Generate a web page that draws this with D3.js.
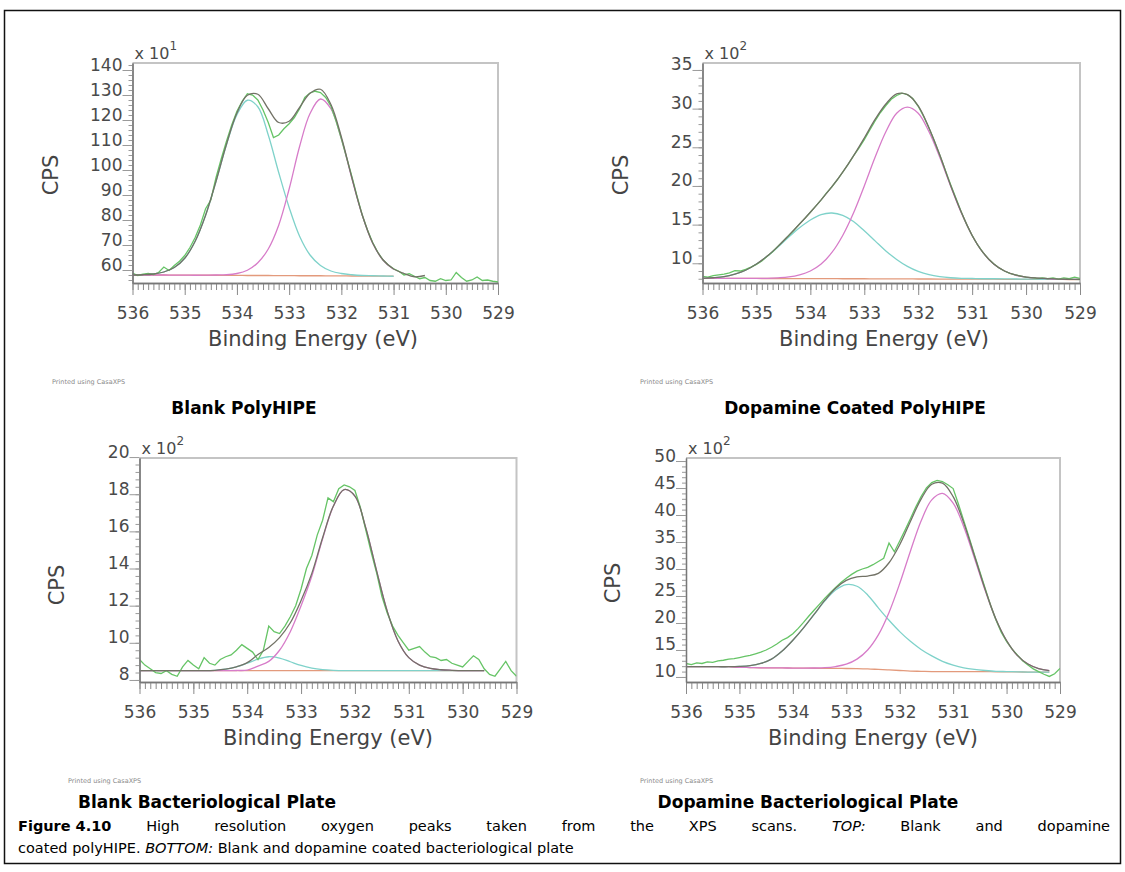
<!DOCTYPE html>
<html><head><meta charset="utf-8">
<script src="https://cdn.jsdelivr.net/npm/d3@7"></script>
<style>body{margin:0;background:#fff}svg{display:block}</style>
</head><body>
<script>
// ---------- shared axes ----------
const bindingEnergyFine = [536.0,535.9,535.8,535.7,535.6,535.5,535.4,535.3,535.2,535.1,535.0,534.9,534.8,534.7,534.6,534.5,534.4,534.3,534.2,534.1,534.0,533.9,533.8,533.7,533.6,533.5,533.4,533.3,533.2,533.1,533.0,532.9,532.8,532.7,532.6,532.5,532.4,532.3,532.2,532.1,532.0,531.9,531.8,531.7,531.6,531.5,531.4,531.3,531.2,531.1,531.0,530.9,530.8,530.7,530.6,530.5,530.4,530.3,530.2,530.1,530.0,529.9,529.8,529.7,529.6,529.5,529.4,529.3,529.2,529.1,529.0];
const bindingEnergyFit = [536.0,535.8,535.6,535.4,535.2,535.0,534.8,534.6,534.4,534.2,534.0,533.8,533.6,533.4,533.2,533.0,532.8,532.6,532.4,532.2,532.0,531.8,531.6,531.4,531.2,531.0,530.8,530.6,530.4,530.2,530.0,529.8,529.6,529.4,529.2,529.0];
const xTickLabels = [536,535,534,533,532,531,530,529];

// ---------- Blank PolyHIPE (x 10^1 CPS) ----------
const blankPolyHIPE_yTicks = [60,70,80,90,100,110,120,130,140];
const blankPolyHIPE_data = [58.8,57.8,58.3,58.6,58.2,59.0,61.2,59.8,61.8,63.5,65.8,69.0,73.0,78.0,84.5,88.0,97.0,104.5,111.5,118.0,123.5,127.5,130.5,130.0,128.0,124.0,119.0,113.0,114.0,116.5,118.5,121.0,124.5,129.0,130.8,131.5,131.0,129.0,125.5,119.5,112.5,105.0,97.5,89.5,82.0,76.0,71.0,67.0,64.0,62.0,60.5,59.5,58.0,58.5,57.5,56.5,57.0,55.8,55.5,56.5,55.8,56.0,59.0,57.0,55.5,56.0,57.2,55.8,56.0,55.5,55.2];
const blankPolyHIPE_background = [58.0,58.0,58.0,58.0,57.95,57.95,57.9,57.9,57.9,57.85,57.85,57.8,57.8,57.8,57.75,57.75,57.7,57.7,57.7,57.65,57.65,57.6,57.6,57.6,57.55,57.5,null,null,null,null,null,null,null,null,null,null];
const blankPolyHIPE_peakA = [58.0,58.1,58.4,59.2,61.0,64.7,71.5,81.9,95.5,110.1,122.1,127.9,125.3,114.0,99.0,85.0,73.5,66.0,61.8,59.6,58.6,58.1,57.8,57.7,57.6,57.5,null,null,null,null,null,null,null,null,null,null];
const blankPolyHIPE_peakB = [58.0,58.0,58.0,58.0,57.95,57.95,57.9,57.95,58.0,58.1,58.6,59.9,62.9,68.4,77.9,92.4,109.4,122.6,128.4,124.5,112.5,96.7,81.9,70.7,63.9,60.3,null,null,null,null,null,null,null,null,null,null];
const blankPolyHIPE_envelope = [58.0,58.1,58.4,59.2,61.0,64.7,71.5,81.9,95.5,110.3,122.8,129.9,130.3,124.5,119.0,119.5,125.0,130.7,132.3,126.2,113.2,97.0,82.0,70.8,64.0,60.4,58.6,57.3,57.8,null,null,null,null,null,null,null];

// ---------- Dopamine Coated PolyHIPE (x 10^2 CPS) ----------
const dopaminePolyHIPE_yTicks = [10,15,20,25,30,35];
const dopaminePolyHIPE_data = [8.3,8.2,8.4,8.5,8.6,8.75,9.05,9.0,9.2,9.5,9.85,10.3,10.9,11.5,12.2,12.9,13.6,14.3,15.1,15.8,16.6,17.4,18.2,19.1,19.9,20.8,21.8,22.8,23.9,24.9,26.0,27.2,28.4,29.5,30.4,31.2,31.7,32.0,31.8,31.3,30.3,29.0,27.5,25.8,24.0,22.1,20.2,18.4,16.6,15.0,13.6,12.4,11.4,10.6,9.95,9.4,9.0,8.7,8.5,8.35,8.2,8.15,8.05,8.1,8.0,8.1,7.95,8.1,8.0,8.2,8.05];
const dopaminePolyHIPE_background = [8.05,8.05,8.05,8.05,8.04,8.04,8.03,8.03,8.02,8.02,8.02,8.01,8.01,8.0,8.0,8.0,7.99,7.99,7.98,7.98,7.97,7.97,7.96,7.96,7.95,7.95,7.94,7.94,7.93,7.93,7.92,7.92,7.91,7.91,7.9,7.9];
const dopaminePolyHIPE_peakA = [8.06,8.13,8.27,8.6,9.1,9.9,10.9,12.1,13.4,14.6,15.6,16.3,16.5,16.2,15.4,14.2,12.9,11.6,10.5,9.6,8.95,8.52,8.27,8.13,8.06,8.03,8.0,8.0,7.98,7.97,7.95,7.94,7.93,7.92,7.91,7.9];
const dopaminePolyHIPE_peakB = [8.05,8.05,8.05,8.05,8.04,8.05,8.06,8.12,8.23,8.5,9.0,9.9,11.4,13.6,16.5,20.0,23.7,27.0,29.4,30.2,29.4,27.0,23.7,20.0,16.5,13.6,11.4,9.9,9.0,8.48,8.2,8.07,8.0,7.96,7.93,7.91];
const dopaminePolyHIPE_envelope = [8.06,8.13,8.27,8.6,9.1,9.91,10.93,12.19,13.61,15.08,16.6,18.2,19.9,21.8,23.9,26.2,28.6,30.6,31.9,31.8,30.35,27.5,24.0,20.1,16.6,13.6,11.4,9.9,9.0,8.5,8.22,8.09,8.02,7.96,7.93,7.91];

// ---------- Blank Bacteriological Plate (x 10^2 CPS) ----------
const blankPlate_yTicks = [8,10,12,14,16,18,20];
const blankPlate_data = [9.1,8.8,8.6,8.4,8.35,8.5,8.3,8.2,8.7,9.05,8.8,8.6,9.2,8.9,8.8,9.1,9.25,9.35,9.6,9.9,9.7,9.5,9.1,9.6,10.9,10.6,10.5,10.9,11.4,12.0,12.9,14.0,14.7,15.8,16.6,17.8,17.6,18.3,18.5,18.4,18.2,17.3,16.1,14.9,13.8,12.5,11.6,10.9,10.4,10.0,9.6,9.7,9.8,9.5,9.25,9.2,9.05,9.1,8.9,8.8,8.7,9.0,9.3,9.1,8.6,8.3,8.2,8.6,9.0,8.5,8.2];
const blankPlate_background = [8.5,8.5,8.5,8.5,8.5,8.5,8.5,8.5,8.5,8.5,8.5,8.5,8.5,8.5,8.5,8.5,8.5,8.5,8.5,8.5,8.5,8.5,8.5,8.5,8.5,8.5,8.5,8.5,8.5,8.5,8.5,8.5,8.5,null,null,null];
const blankPlate_peakA = [8.5,8.5,8.5,8.5,8.5,8.5,8.5,8.52,8.58,8.7,8.9,9.12,9.25,9.18,8.98,8.78,8.64,8.56,8.52,8.5,8.5,8.5,8.5,8.5,8.5,8.5,8.5,8.5,8.5,8.5,8.5,8.5,8.5,null,null,null];
const blankPlate_peakB = [8.5,8.5,8.5,8.5,8.5,8.5,8.5,8.5,8.5,8.51,8.53,8.75,9.0,9.6,10.6,12.0,13.6,15.6,17.35,18.25,17.9,16.2,13.9,11.7,10.1,9.2,8.8,8.62,8.55,8.52,8.5,8.5,8.5,null,null,null];
const blankPlate_envelope = [8.5,8.5,8.5,8.5,8.5,8.5,8.5,8.52,8.58,8.71,8.93,9.37,9.75,10.28,11.08,12.28,13.74,15.66,17.37,18.25,17.9,16.2,13.9,11.7,10.1,9.2,8.8,8.62,8.55,8.52,8.5,8.5,8.5,null,null,null];

// ---------- Dopamine Bacteriological Plate (x 10^2 CPS) ----------
const dopaminePlate_yTicks = [10,15,20,25,30,35,40,45,50];
const dopaminePlate_data = [12.5,12.3,12.6,12.5,12.8,12.7,13.0,13.1,13.3,13.4,13.6,13.8,14.0,14.3,14.6,15.0,15.5,16.1,16.8,17.3,18.0,19.0,20.1,21.3,22.4,23.5,24.6,25.6,26.6,27.5,28.3,29.0,29.6,30.0,30.3,30.8,31.4,32.0,34.8,33.2,35.2,37.2,39.3,41.5,43.4,45.0,46.0,46.4,46.2,45.6,44.9,42.0,38.9,35.8,32.6,29.5,26.4,23.3,20.6,18.3,16.6,15.2,14.1,13.0,12.2,11.5,11.0,10.5,10.1,10.6,11.6];
const dopaminePlate_background = [11.9,11.9,11.9,11.9,11.9,11.8,11.75,11.7,11.7,11.68,11.65,11.63,11.62,11.6,11.6,11.57,11.55,11.5,11.4,11.3,11.2,11.1,11.05,11.0,11.0,11.0,11.0,11.0,11.0,10.95,10.95,10.95,10.9,10.9,10.9,null];
const dopaminePlate_peakA = [11.9,11.9,11.9,11.9,11.9,11.95,12.1,12.5,13.3,14.8,16.8,19.1,21.6,24.1,26.1,27.1,26.8,25.2,22.8,20.5,18.4,16.6,15.1,13.9,12.9,12.2,11.7,11.4,11.2,11.05,11.0,10.95,10.9,10.9,10.9,null];
const dopaminePlate_peakB = [11.9,11.9,11.9,11.9,11.9,11.8,11.75,11.7,11.7,11.68,11.65,11.64,11.66,11.72,11.93,12.36,13.3,15.0,17.8,21.96,27.3,33.3,38.9,42.8,44.0,42.2,37.8,32.0,26.0,20.65,16.7,14.0,12.4,11.56,11.16,null];
const dopaminePlate_envelope = [11.9,11.9,11.9,11.9,11.9,11.95,12.1,12.5,13.3,14.8,16.8,19.1,21.64,24.22,26.43,27.89,28.55,28.7,29.2,31.16,34.5,38.8,42.95,45.7,45.9,43.4,38.5,32.4,26.2,20.75,16.75,14.0,12.4,11.56,11.16,null];

const panelTitles = ["Blank PolyHIPE","Dopamine Coated PolyHIPE","Blank Bacteriological Plate","Dopamine Bacteriological Plate"];
const multiplierExponents = ["1","2","2","2"];

// ---------- layout (positions / styles) ----------
const layout = [
  {l:132.5,r:498,t:63,b:283,yDom:[54.8,142.8],minorStep:2,cps:[50,175],xt:313,titleX:244,printX:52,titleY:414},
  {l:702.5,r:1080,t:63,b:283,yDom:[7.45,35.9],minorStep:1,cps:[620,175],xt:884,titleX:855,printX:640,titleY:414},
  {l:139.5,r:516.5,t:458,b:682,yDom:[7.89,19.95],minorStep:0.4,cps:[56,585],xt:328,titleX:207,printX:68,titleY:808},
  {l:686,r:1060,t:458,b:682,yDom:[9.07,50.56],minorStep:1,cps:[612,583],xt:873,titleX:808,printX:640,titleY:808}
];
const series = [
  {ticks:blankPolyHIPE_yTicks,data:blankPolyHIPE_data,bg:blankPolyHIPE_background,a:blankPolyHIPE_peakA,b:blankPolyHIPE_peakB,env:blankPolyHIPE_envelope},
  {ticks:dopaminePolyHIPE_yTicks,data:dopaminePolyHIPE_data,bg:dopaminePolyHIPE_background,a:dopaminePolyHIPE_peakA,b:dopaminePolyHIPE_peakB,env:dopaminePolyHIPE_envelope},
  {ticks:blankPlate_yTicks,data:blankPlate_data,bg:blankPlate_background,a:blankPlate_peakA,b:blankPlate_peakB,env:blankPlate_envelope},
  {ticks:dopaminePlate_yTicks,data:dopaminePlate_data,bg:dopaminePlate_background,a:dopaminePlate_peakA,b:dopaminePlate_peakB,env:dopaminePlate_envelope}
];

const FONT = "'DejaVu Sans', Verdana, sans-serif";
const svg = d3.select("body").append("svg").attr("width",1125).attr("height",872)
  .style("font-family",FONT);

svg.append("rect").attr("x",4.5).attr("y",10.5).attr("width",1116).attr("height",853)
  .attr("fill","none").attr("stroke","#111").attr("stroke-width",1.5);

layout.forEach((L,i)=>{
  const S = series[i];
  const g = svg.append("g");
  const x = d3.scaleLinear().domain([536,529]).range([L.l,L.r]);
  const y = d3.scaleLinear().domain(L.yDom).range([L.b,L.t]);

  g.append("path").attr("d",`M${L.l},${L.t}H${L.r}V${L.b}`)
    .attr("fill","none").attr("stroke","#c4c4c4").attr("stroke-width",2);

  const cid = "clip"+i;
  g.append("clipPath").attr("id",cid).append("rect")
    .attr("x",L.l).attr("y",L.t).attr("width",L.r-L.l).attr("height",L.b-L.t);
  const plot = g.append("g").attr("clip-path",`url(#${cid})`);

  const fitPts = arr => bindingEnergyFit.map((e,k)=>[e,arr[k]]);
  const finePts = arr => bindingEnergyFine.map((e,k)=>[e,arr[k]]);
  const smooth = d3.line().defined(d=>d[1]!=null).x(d=>x(d[0])).y(d=>y(d[1])).curve(d3.curveCatmullRom.alpha(0.5));
  const raw = d3.line().x(d=>x(d[0])).y(d=>y(d[1])).curve(d3.curveLinear);

  plot.append("path").attr("d",smooth(fitPts(S.bg))).attr("fill","none").attr("stroke","#e39a7c").attr("stroke-width",1.3);
  plot.append("path").attr("d",smooth(fitPts(S.a))).attr("fill","none").attr("stroke","#7fd2ca").attr("stroke-width",1.3);
  plot.append("path").attr("d",smooth(fitPts(S.b))).attr("fill","none").attr("stroke","#d77cc9").attr("stroke-width",1.3);
  plot.append("path").attr("d",raw(finePts(S.data))).attr("fill","none").attr("stroke","#66c466").attr("stroke-width",1.3);
  plot.append("path").attr("d",smooth(fitPts(S.env))).attr("fill","none").attr("stroke","#727266").attr("stroke-width",1.3);

  const minorX = d3.range(0,71).map(k=>536-k*0.1);
  const gxMinor = g.append("g").attr("transform",`translate(0,${L.b})`)
    .call(d3.axisBottom(x).tickValues(minorX).tickSize(7).tickSizeOuter(0).tickFormat(""));
  const gx = g.append("g").attr("transform",`translate(0,${L.b})`)
    .call(d3.axisBottom(x).tickValues(xTickLabels).tickSize(12).tickSizeOuter(0).tickFormat(d3.format("d")));
  gx.selectAll("text").attr("y",36).attr("dy",0).attr("font-size",17).attr("fill","#4a4a4a").attr("font-family",FONT);
  [gxMinor,gx].forEach(a=>{a.selectAll("line").attr("stroke","#8a8a8a"); a.select(".domain").attr("stroke","#777").attr("stroke-width",1.3);});

  const minorY = d3.range(Math.ceil(L.yDom[0]/L.minorStep)*L.minorStep, L.yDom[1], L.minorStep);
  const gyMinor = g.append("g").attr("transform",`translate(${L.l},0)`)
    .call(d3.axisLeft(y).tickValues(minorY).tickSize(4).tickSizeOuter(0).tickFormat(""));
  const gy = g.append("g").attr("transform",`translate(${L.l},0)`)
    .call(d3.axisLeft(y).tickValues(S.ticks).tickSize(10).tickSizeOuter(0).tickFormat(d3.format("d")));
  gy.selectAll("text").attr("x",-10).attr("dy",0).attr("font-size",17).attr("fill","#4a4a4a").attr("font-family",FONT);
  [gyMinor,gy].forEach(a=>{a.selectAll("line").attr("stroke","#9a9a9a"); a.select(".domain").attr("stroke","#777").attr("stroke-width",1.3);});

  const m = g.append("text").attr("x",L.l+2).attr("y",L.t-4).attr("font-size",16).attr("fill","#4a4a4a");
  m.append("tspan").text("x 10");
  m.append("tspan").attr("dy",-9).attr("font-size",12).text(multiplierExponents[i]);

  g.append("text").attr("transform",`translate(${L.cps[0]},${L.cps[1]}) rotate(-90)`)
    .attr("text-anchor","middle").attr("dy","0.36em").attr("font-size",21).attr("fill","#444").text("CPS");
  g.append("text").attr("x",L.xt).attr("y",L.b+63).attr("text-anchor","middle")
    .attr("font-size",21).attr("fill","#444").text("Binding Energy (eV)");

  g.append("text").attr("x",L.printX).attr("y",L.b+101).attr("font-size",6.5).attr("fill","#8a8a8a").text("Printed using CasaXPS");
  g.append("text").attr("x",L.titleX).attr("y",L.titleY).attr("text-anchor","middle")
    .attr("font-size",17).attr("font-weight","bold").attr("fill","#000").text(panelTitles[i]);
});

// ---------- caption (first line justified) ----------
const captionLine1 = [["Figure\u00a04.10","bold"],["High"],["resolution"],["oxygen"],["peaks"],["taken"],["from"],["the"],["XPS"],["scans."],["TOP:","italic"],["Blank"],["and"],["dopamine"]];
const capSize = 14.5;
const cap = svg.append("g").attr("font-size",capSize).attr("fill","#000");
const widths = captionLine1.map(w=>{
  const t = cap.append("text").text(w[0]).attr("font-weight",w[1]==="bold"?"bold":null).attr("font-style",w[1]==="italic"?"italic":null);
  const len = t.node().getComputedTextLength(); t.remove(); return len;
});
const x0 = 18, x1 = 1110;
const gap = (x1-x0-d3.sum(widths))/(captionLine1.length-1);
let cx = x0;
captionLine1.forEach((w,k)=>{
  cap.append("text").attr("x",cx).attr("y",831).text(w[0])
    .attr("font-weight",w[1]==="bold"?"bold":null).attr("font-style",w[1]==="italic"?"italic":null);
  cx += widths[k]+gap;
});
const l2 = cap.append("text").attr("x",x0).attr("y",853);
l2.append("tspan").text("coated polyHIPE. ");
l2.append("tspan").attr("font-style","italic").text("BOTTOM:");
l2.append("tspan").text(" Blank and dopamine coated bacteriological plate");
</script>
</body></html>
